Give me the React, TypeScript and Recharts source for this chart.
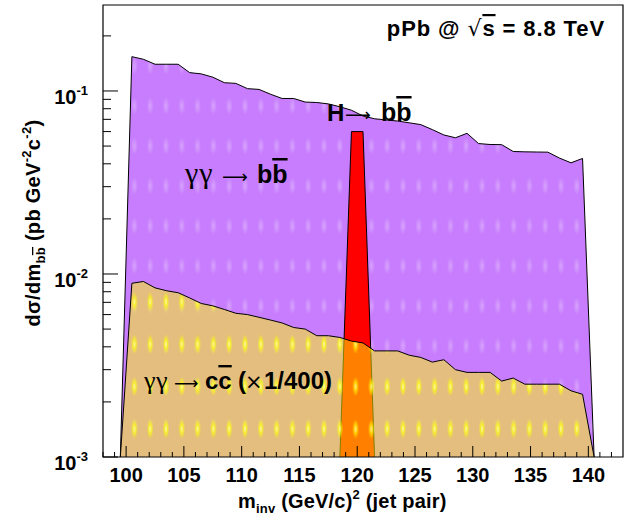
import { Area, ComposedChart, ReferenceArea, XAxis, YAxis } from 'recharts';

// bin centres of the jet-pair invariant mass histogram (GeV/c^2)
const massBins = [
  99.5, 100.5, 101.5, 102.5, 103.5, 104.5, 105.5, 106.5, 107.5, 108.5, 109.5, 110.5, 111.5, 112.5,
  113.5, 114.5, 115.5, 116.5, 117.5, 118.5, 119.5, 120.5, 121.5, 122.5, 123.5, 124.5, 125.5, 126.5,
  127.5, 128.5, 129.5, 130.5, 131.5, 132.5, 133.5, 134.5, 135.5, 136.5, 137.5, 138.5, 139.5, 140.5,
];

// γγ → bb̄ continuum (pb GeV^-2 c^-2)
const bbValues = [
  0.001, 0.154, 0.149, 0.14, 0.14, 0.14, 0.126, 0.124, 0.119, 0.111, 0.11, 0.103, 0.102, 0.096,
  0.091, 0.091, 0.087, 0.0865, 0.085, 0.082, 0.0785, 0.073, 0.0705, 0.0695, 0.0685, 0.067, 0.0655, 0.0615,
  0.0575, 0.0555, 0.0587, 0.0516, 0.051, 0.0509, 0.0467, 0.0465, 0.0464, 0.0463, 0.043, 0.0405, 0.0428, 0.001,
];

// γγ → cc̄ continuum, scaled by 1/400
const ccValues = [
  0.001, 0.0089, 0.0091, 0.0084, 0.0081, 0.0079, 0.0074, 0.0069, 0.0067, 0.0064, 0.0061, 0.006, 0.0058, 0.0056,
  0.0054, 0.0051, 0.005, 0.0046, 0.0046, 0.0045, 0.0043, 0.0042, 0.0038, 0.0038, 0.0038, 0.0036, 0.0035, 0.0033,
  0.0034, 0.003, 0.0029, 0.0029, 0.0029, 0.0026, 0.0027, 0.0025, 0.0025, 0.0025, 0.0025, 0.0023, 0.0022, 0.001,
];

// H → bb̄ signal peak
const higgsMass = [118.5, 119.5, 120.5, 121.5];
const higgsValues = [0.001, 0.06, 0.06, 0.001];

const xTicks = [
  98, 99, 100, 101, 102, 103, 104, 105, 106, 107, 108, 109, 110, 111, 112, 113, 114, 115, 116, 117, 118, 119, 120,
  121, 122, 123, 124, 125, 126, 127, 128, 129, 130, 131, 132, 133, 134, 135, 136, 137, 138, 139, 140, 141, 142,
];
const yTicks = [
  0.001, 0.002, 0.003, 0.004, 0.005, 0.006, 0.007, 0.008, 0.009, 0.01, 0.02, 0.03, 0.04, 0.05, 0.06, 0.07, 0.08,
  0.09, 0.1, 0.2,
];

const chartData = massBins.map((m, i) => {
  const h = higgsMass.indexOf(m);
  return { m, bb: bbValues[i], cc: ccValues[i], higgs: h >= 0 ? higgsValues[h] : null };
});

const sans = 'Liberation Sans, Arial, Helvetica, sans-serif';
const serif = 'Liberation Serif, Times New Roman, serif';
const arrowFont = 'DejaVu Sans, sans-serif';
const overline = { textDecoration: 'overline' };

function MassTick({ x, y, payload }: any) {
  const v = payload.value;
  const major = v % 5 === 0;
  return (
    <g>
      <line x1={x} x2={x} y1={y} y2={y - (major ? 11 : 5)} stroke="#000" strokeWidth={1} />
      {major && (
        <text x={x} y={y + 25} textAnchor="middle" fontFamily={sans} fontWeight="bold" fontSize={20} fill="#000">
          {v}
        </text>
      )}
    </g>
  );
}

function DecadeTick({ x, y, payload }: any) {
  const exp = Math.log10(payload.value);
  const major = Math.abs(exp - Math.round(exp)) < 1e-6;
  return (
    <g>
      <line x1={x} x2={x + (major ? 15 : 8)} y1={y} y2={y} stroke="#000" strokeWidth={1} />
      {major && (
        <text x={x - 15} y={y + 13} textAnchor="end" fontFamily={sans} fontWeight="bold" fontSize={20} fill="#000">
          10
          <tspan fontSize={13} dy={-9}>
            {Math.round(exp)}
          </tspan>
        </text>
      )}
    </g>
  );
}

export default function App() {
  return (
    <div style={{ position: 'absolute', left: 0, top: 0, width: 631, height: 527, background: '#fff' }}>
      <ComposedChart width={631} height={527} data={chartData} margin={{ top: 5, right: 8, bottom: 0, left: 0 }}>
        <defs>
          <radialGradient id="bbGlow">
            <stop offset="0" stopColor="#ffffff" stopOpacity={0.3} />
            <stop offset="1" stopColor="#ffffff" stopOpacity={0} />
          </radialGradient>
          <radialGradient id="ccGlow">
            <stop offset="0" stopColor="#ffffd8" stopOpacity={0.9} />
            <stop offset="0.45" stopColor="#ffff00" stopOpacity={0.65} />
            <stop offset="1" stopColor="#ffff00" stopOpacity={0} />
          </radialGradient>
          <pattern id="bbFill" patternUnits="userSpaceOnUse" x={142.3} y={6} width={15.8} height={40}>
            <rect width={15.8} height={40} fill="#c77dfd" />
            <ellipse cx={7.9} cy={20} rx={3.5} ry={9} fill="url(#bbGlow)" />
          </pattern>
          <pattern id="ccFill" patternUnits="userSpaceOnUse" x={142.3} y={280.35} width={15.8} height={42.5}>
            <rect width={15.8} height={42.5} fill="#ffff00" fillOpacity={0.5} />
            <ellipse cx={7.9} cy={21.25} rx={3.2} ry={10} fill="url(#ccGlow)" />
          </pattern>
        </defs>
        <XAxis
          dataKey="m"
          type="number"
          domain={[98, 143]}
          ticks={xTicks}
          interval={0}
          tick={<MassTick />}
          tickSize={0}
          tickMargin={0}
          tickLine={false}
          axisLine={false}
          height={70}
          allowDataOverflow
        />
        <YAxis
          type="number"
          scale="log"
          domain={[0.001, 0.295]}
          ticks={yTicks}
          interval={0}
          tick={<DecadeTick />}
          tickSize={0}
          tickMargin={0}
          tickLine={false}
          axisLine={false}
          width={103}
          allowDataOverflow
        />
        <Area dataKey="bb" type="linear" fill="url(#bbFill)" fillOpacity={1} stroke="#000" strokeWidth={1} isAnimationActive={false} />
        <Area dataKey="higgs" type="linear" fill="#ff0000" fillOpacity={1} stroke="#000" strokeWidth={1} isAnimationActive={false} />
        <Area dataKey="cc" type="linear" fill="url(#ccFill)" fillOpacity={1} stroke="#000" strokeWidth={1} isAnimationActive={false} />
        <ReferenceArea x1={98} x2={143} y1={0.001} y2={0.295} fill="none" stroke="#000" strokeWidth={1.2} />
      </ComposedChart>
      <svg width={631} height={527} style={{ position: 'absolute', left: 0, top: 0, pointerEvents: 'none' }}>
        {/* collision system label */}
        <text x={605} y={36} textAnchor="end" fontFamily={sans} fontWeight="bold" fontSize={22} letterSpacing={0.9} fill="#000">
          pPb @ <tspan fontWeight="normal" fontFamily={arrowFont}>√</tspan>
          <tspan style={overline}>s</tspan> = 8.8 TeV
        </text>

        {/* signal label */}
        <text y={121} fontFamily={sans} fontWeight="bold" fontSize={24} fill="#000">
          <tspan x={327}>H</tspan>
          <tspan x={345} fontFamily={arrowFont} fontWeight="normal" fontSize={18}>⟶</tspan>
          <tspan x={381} fontSize={25}>b</tspan>
          <tspan fontSize={25} style={overline}>b</tspan>
        </text>

        {/* bb̄ continuum label */}
        <text y={183} fontFamily={sans} fontWeight="bold" fontSize={25} fill="#000">
          <tspan x={185} fontFamily={serif} fontWeight="normal" fontSize={30} letterSpacing={1}>γγ</tspan>
          <tspan x={222} fontFamily={arrowFont} fontWeight="normal" fontSize={18}>⟶</tspan>
          <tspan x={257}>b</tspan>
          <tspan style={overline}>b</tspan>
        </text>

        {/* cc̄ continuum label */}
        <text y={389} fontFamily={sans} fontWeight="bold" fontSize={24} fill="#000">
          <tspan x={144} fontFamily={serif} fontWeight="normal" fontSize={26} letterSpacing={0.5}>γγ</tspan>
          <tspan x={174} fontFamily={arrowFont} fontWeight="normal" fontSize={17}>⟶</tspan>
          <tspan x={205}>c</tspan>
          <tspan style={overline}>c</tspan>
          <tspan x={238}>(</tspan>
          <tspan x={245} fontFamily={arrowFont} fontWeight="normal" fontSize={21}>×</tspan>
          <tspan x={264}>1/400)</tspan>
        </text>

        <text x={238} y={508} fontFamily={sans} fontWeight="bold" fontSize={20} letterSpacing={0.2} fill="#000">
          m<tspan fontSize={13} dy={5}>inv</tspan>
          <tspan dy={-5}> (GeV/c)</tspan>
          <tspan fontSize={13} dy={-9}>2</tspan>
          <tspan dy={9}> (jet pair)</tspan>
        </text>
        <text
          transform="rotate(-90)"
          x={-223}
          y={40}
          textAnchor="middle"
          fontFamily={sans}
          fontWeight="bold"
          fontSize={20}
          letterSpacing={0.3}
          fill="#000"
        >
          dσ/dm<tspan fontSize={13} dy={5}>b</tspan>
          <tspan fontSize={13} style={overline}>b</tspan>
          <tspan dy={-5}> (pb GeV</tspan>
          <tspan fontSize={13} dy={-9}>-2</tspan>
          <tspan dy={9}>c</tspan>
          <tspan fontSize={13} dy={-9}>-2</tspan>
          <tspan dy={9}>)</tspan>
        </text>
      </svg>
    </div>
  );
}
